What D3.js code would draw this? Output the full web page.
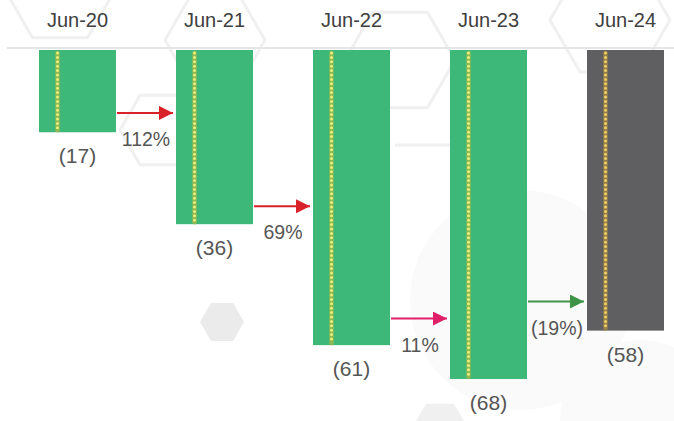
<!DOCTYPE html>
<meta charset="utf-8">
<style>
body { margin: 0; background: #fff; }
svg { display: block; font-family: "Liberation Sans", Arial, sans-serif; }
.period { font-size: 20px; fill: #404040; text-anchor: middle; }
.val { font-size: 21px; fill: #555; text-anchor: middle; }
.pct { font-size: 19.5px; fill: #555; text-anchor: middle; }
</style>
<svg width="674" height="421"></svg>
<script src="https://d3js.org/d3.v7.min.js"></script>
<script>
  var periods = ["Jun-20", "Jun-21", "Jun-22", "Jun-23", "Jun-24"];
  var values = [17, 36, 61, 68, 58];
  var valueLabels = ["(17)", "(36)", "(61)", "(68)", "(58)"];
  var changeLabels = ["112%", "69%", "11%", "(19%)"];
  var arrowLevels = [13, 32.3, 55.5, 52];   // where each arrow sits, in value units
  var arrowColors = ["#d92228", "#d92228", "#dd2068", "#3e9447"];
  var barColors = ["#3db878", "#3db878", "#3db878", "#3db878", "#5f5f61"];

  var svg = d3.select("svg"),
      width = +svg.attr("width"),
      height = +svg.attr("height");

  // faint background decoration
  var bg = svg.append("g");
  function hex(cx, cy, r) {
    var pts = d3.range(6).map(function(i) {
      var a = Math.PI / 3 * i;
      return [cx + r * Math.cos(a), cy + r * Math.sin(a)];
    });
    return "M" + pts.join("L") + "Z";
  }
  bg.append("circle").attr("cx", 520).attr("cy", 300).attr("r", 110).attr("fill", "#fafafa");
  bg.append("circle").attr("cx", 640).attr("cy", 420).attr("r", 80).attr("fill", "#fafafa");
  [[60, -10, 55], [215, 40, 50], [400, 60, 55], [610, 20, 60], [160, 130, 40]].forEach(function(h) {
    bg.append("path").attr("d", hex(h[0], h[1], h[2]))
      .attr("fill", "none").attr("stroke", "#f0f0f0").attr("stroke-width", 3);
  });
  bg.append("line").attr("x1", 395).attr("x2", 470).attr("y1", 145).attr("y2", 145)
    .attr("stroke", "#f0f0f0").attr("stroke-width", 3);
  bg.append("path").attr("d", hex(222, 322, 22)).attr("fill", "#ebebeb");
  bg.append("path").attr("d", hex(440, 428, 28)).attr("fill", "#f0f0f0");

  var x = d3.scaleBand()
      .domain(periods)
      .range([39, 664])
      .paddingInner(0.438)
      .paddingOuter(0);

  var y = d3.scaleLinear()
      .domain([0, 68])
      .range([50, 379]);

  // top rule
  svg.append("line")
      .attr("x1", 7).attr("x2", width)
      .attr("y1", 48).attr("y2", 48)
      .attr("stroke", "#e6e6e6").attr("stroke-width", 2);

  var defs = svg.append("defs");
  arrowColors.forEach(function(c, i) {
    defs.append("marker")
        .attr("id", "head" + i)
        .attr("viewBox", "0 0 10 10")
        .attr("refX", 10).attr("refY", 5)
        .attr("markerWidth", 7).attr("markerHeight", 7)
        .attr("markerUnits", "strokeWidth")
        .attr("orient", "auto")
      .append("path")
        .attr("d", "M0,0L10,5L0,10Z")
        .attr("fill", c);
  });

  // period labels
  svg.selectAll(".period").data(periods).enter()
    .append("text")
      .attr("class", "period")
      .attr("x", function(d) { return x(d) + x.bandwidth() / 2; })
      .attr("y", 27)
      .text(function(d) { return d; });

  // bars
  var bars = svg.selectAll(".bar").data(values).enter()
    .append("g").attr("class", "bar");

  bars.append("rect")
      .attr("x", function(d, i) { return x(periods[i]); })
      .attr("y", y(0))
      .attr("width", x.bandwidth())
      .attr("height", function(d) { return y(d) - y(0); })
      .attr("fill", function(d, i) { return barColors[i]; });

  // glowing dotted string inside each bar
  function dotLine(sel, color, w, dash, op) {
    sel.append("line")
      .attr("x1", function(d, i) { return x(periods[i]) + 18.5; })
      .attr("x2", function(d, i) { return x(periods[i]) + 18.5; })
      .attr("y1", y(0) + 3)
      .attr("y2", function(d) { return y(d) - 2; })
      .attr("stroke", color)
      .attr("stroke-width", w)
      .attr("stroke-linecap", "round")
      .attr("stroke-dasharray", dash)
      .attr("opacity", op);
  }
  dotLine(bars, function(d, i) { return i === 4 ? "#a88a40" : "#a8b848"; }, 4.5, null, 0.75);
  dotLine(bars, function(d, i) { return i === 4 ? "#f0cf68" : "#eaf07a"; }, 3, "0,4.4", 1);

  bars.append("text")
      .attr("class", "val")
      .attr("x", function(d, i) { return x(periods[i]) + x.bandwidth() / 2; })
      .attr("y", function(d) { return y(d) + 31; })
      .text(function(d, i) { return valueLabels[i]; });

  // change arrows between bars
  var arrows = svg.selectAll(".arrow").data(changeLabels).enter()
    .append("g").attr("class", "arrow");

  arrows.append("line")
      .attr("x1", function(d, i) { return x(periods[i]) + x.bandwidth() + 1; })
      .attr("x2", function(d, i) { return x(periods[i + 1]) - 3; })
      .attr("y1", function(d, i) { return y(arrowLevels[i]); })
      .attr("y2", function(d, i) { return y(arrowLevels[i]); })
      .attr("stroke", function(d, i) { return arrowColors[i]; })
      .attr("stroke-width", 2)
      .attr("marker-end", function(d, i) { return "url(#head" + i + ")"; });

  arrows.append("text")
      .attr("class", "pct")
      .attr("x", function(d, i) {
        return (x(periods[i]) + x.bandwidth() + x(periods[i + 1])) / 2;
      })
      .attr("y", function(d, i) { return y(arrowLevels[i]) + 33; })
      .text(function(d) { return d; });
</script>
